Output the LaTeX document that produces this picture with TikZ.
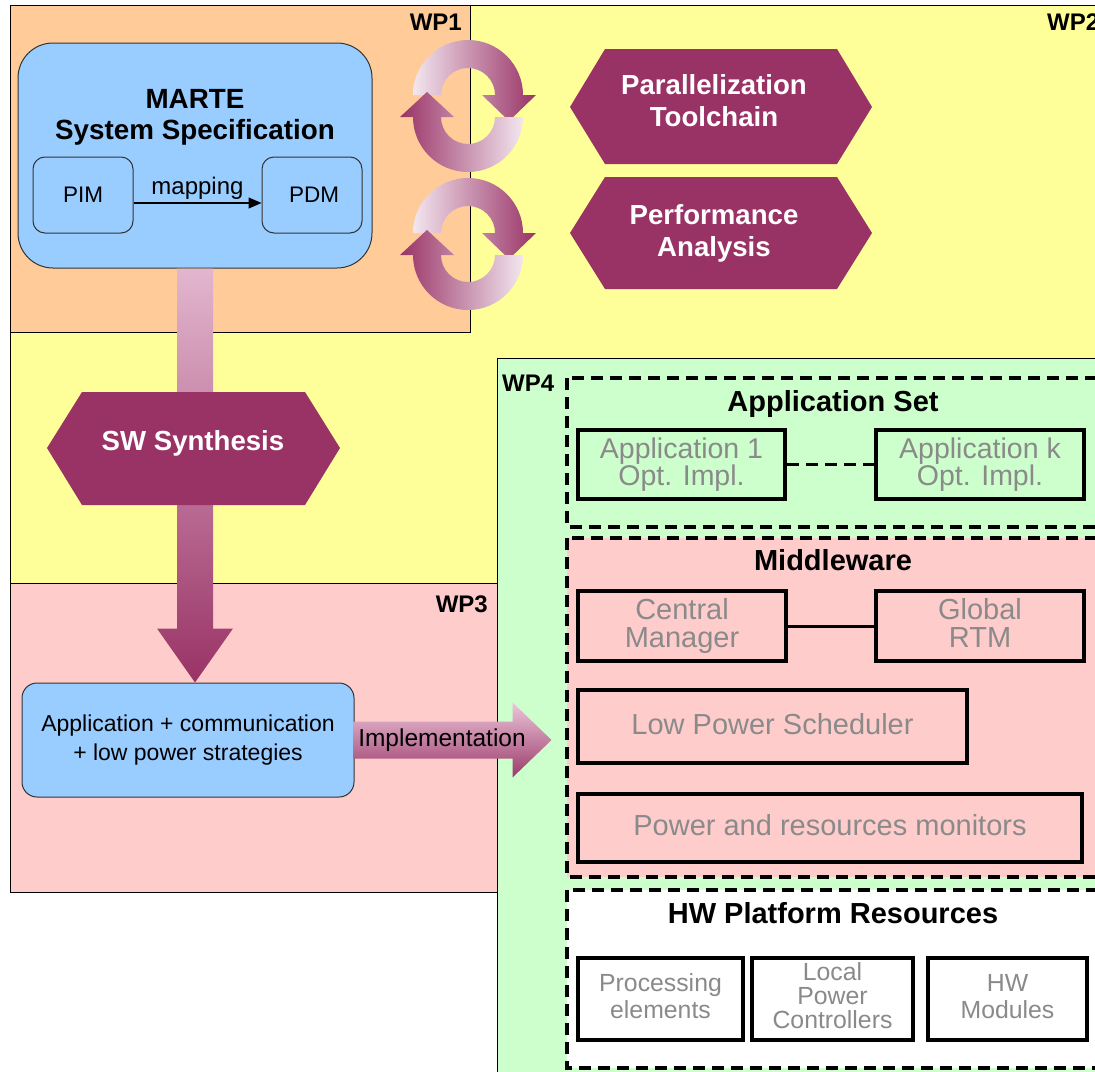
\documentclass[tikz,border=0pt]{standalone}
\usepackage{fontspec}
\setmainfont{Liberation Sans}
\usetikzlibrary{calc,arrows.meta}

\definecolor{wporange}{HTML}{FFCC99}
\definecolor{wpyellow}{HTML}{FFFF99}
\definecolor{wppink}{HTML}{FFCCCC}
\definecolor{wpgreen}{HTML}{CCFFCC}
\definecolor{specblue}{HTML}{99CCFF}
\definecolor{plum}{HTML}{993366}
\definecolor{plumlight}{HTML}{F3E6EF}
\definecolor{shaftlight}{HTML}{E2B6CE}
\definecolor{impllight}{HTML}{EBC6DA}
\definecolor{impldark}{HTML}{9C3A6A}
\definecolor{blocktext}{HTML}{8A8A8A}
\definecolor{edgegray}{HTML}{333333}

\newcommand{\fsz}[2]{\fontsize{#1}{#2}\selectfont}

\tikzset{
  cyclearrows/.pic={
    % upper half-ring, clockwise, head pointing down on the right
    \shade[left color=plumlight,right color=plum]
      (-55,0) arc[start angle=180,end angle=360,radius=55]
      -- (68,0) -- (41,26) -- (14,0) -- (27,0)
      arc[start angle=360,end angle=180,radius=27] -- cycle;
    % lower half-ring, clockwise, head pointing up on the left
    \shade[left color=plum,right color=plumlight]
      (55,22) arc[start angle=0,end angle=180,radius=55]
      -- (-68,22) -- (-41,-3) -- (-14,22) -- (-27,22)
      arc[start angle=180,end angle=0,radius=27] -- cycle;
  }
}

\begin{document}
\begin{tikzpicture}[x=1pt,y=-1pt,
  wpframe/.style={draw=black,line width=1pt},
  wplabel/.style={font=\fsz{24}{28}\bfseries,inner sep=0pt},
  specbox/.style={draw=edgegray,line width=1pt,fill=specblue,inner sep=0pt,rectangle},
  hexlabel/.style={text=white,font=\fsz{27.6}{32}\bfseries,align=center,inner sep=0pt},
  groupbox/.style={draw=black,line width=3.2pt,dash pattern=on 12pt off 7pt},
  grouptitle/.style={font=\fsz{29}{32}\bfseries,inner sep=0pt},
  unitbox/.style={draw=black,line width=4pt,rectangle,inner sep=0pt,align=center,
    text=blocktext,font=\fsz{29}{28},text depth=6pt},
  hwbox/.style={unitbox,font=\fsz{24.8}{27}},
]
\useasboundingbox (0,0) rectangle (1095,1071);
\clip (0,0) rectangle (1095,1071);
\fill[white] (0,0) rectangle (1095,1071);

% work package areas
\draw[wpframe,fill=wpyellow] (10,5) rectangle (1120,583);
\draw[wpframe,fill=wporange] (10,5) rectangle (470,332);
\draw[wpframe,fill=wppink] (10,583) rectangle (497,892);
\draw[wpframe,fill=wpgreen] (497,358) rectangle (1120,1090);

\node[wplabel,anchor=east] (wp1) at (462,22) {WP1};
\node[wplabel,anchor=west] (wp2) at (1047,22) {WP2};
\node[wplabel,anchor=east] (wp3) at (488,604) {WP3};
\node[wplabel,anchor=west] (wp4) at (502,383) {WP4};

% MARTE specification
\node[specbox,rounded corners=35pt,minimum width=354pt,minimum height=225pt]
  (marte) at (195,155.5) {};
\node[font=\fsz{27.8}{31}\bfseries,align=center,inner sep=0pt] (martetitle) at (195,117)
  {MARTE\\System Specification};
\node[specbox,rounded corners=12pt,minimum width=100pt,minimum height=76pt,
  font=\fsz{22.5}{26}] (pim) at (83,195) {PIM};
\node[specbox,rounded corners=12pt,minimum width=100pt,minimum height=76pt,
  font=\fsz{22.5}{26}] (pdm) at (312,195) {\hspace*{4pt}PDM};
\draw[line width=1.2pt,-{Triangle[length=13pt,width=11pt]}]
  ([yshift=-8pt]pim.east) -- node[above=1pt,font=\fsz{24}{26},inner sep=2pt] (maplabel) {mapping}
  ([yshift=-8pt]pdm.west);

% iteration cycles
\pic at (468,95) {cyclearrows};
\pic at (468,233) {cyclearrows};

% analysis tools
\fill[plum] (570,107) -- (605,49) -- (837,49) -- (872,107) -- (837,164) -- (605,164) -- cycle;
\node[hexlabel] (partool) at (714,101) {Parallelization\\Toolchain};
\fill[plum] (570,233) -- (605,177) -- (837,177) -- (872,233) -- (837,289) -- (605,289) -- cycle;
\node[hexlabel] (perfan) at (714,233) {Performance\\Analysis};

% application box and synthesis flow
\node[specbox,rounded corners=15pt,minimum width=332pt,minimum height=114pt,
  font=\fsz{23}{29},align=center] (appbox) at (188,740)
  {Application + communication\\+ low power strategies};
\coordinate (synthtip) at (marte.south |- appbox.north);
\shade[top color=shaftlight,bottom color=plum]
  ($(marte.south)+(-18,0)$) -- ($(synthtip)+(-18,-54)$) -- ($(synthtip)+(-38,-54)$)
  -- (synthtip) -- ($(synthtip)+(38,-54)$) -- ($(synthtip)+(18,-54)$)
  -- ($(marte.south)+(18,0)$) -- cycle;
\fill[plum] (47,448) -- (82,392) -- (305,392) -- (340,448) -- (305,505) -- (82,505) -- cycle;
\node[hexlabel] (swsyn) at (193,443) {SW Synthesis};

% implementation flow
\coordinate (impltip) at ($(appbox.east)+(197,0)$);
\shade[top color=impllight,bottom color=impldark]
  ($(appbox.east)+(-1,-18.5)$) -- ($(impltip)+(-39,-18.5)$) -- ($(impltip)+(-39,-37.5)$)
  -- (impltip) -- ($(impltip)+(-39,37.5)$) -- ($(impltip)+(-39,18.5)$)
  -- ($(appbox.east)+(-1,18.5)$) -- cycle;
\node[font=\fsz{24.5}{26},inner sep=0pt] (impllabel) at (442,740) {Implementation};

% application set
\draw[groupbox,fill=wpgreen] (567,378) rectangle (1120,527);
\node[grouptitle] (appsettitle) at (833,404) {Application Set};
\node[unitbox,minimum width=207pt,minimum height=69pt,font=\fsz{28.5}{27}] (app1) at (681.5,464.5)
  {Application 1\\Opt. Impl.};
\node[unitbox,minimum width=208pt,minimum height=69pt,font=\fsz{28.5}{27}] (appk) at (980,464.5)
  {Application k\\Opt. Impl.};
\draw[line width=3.2pt,dash pattern=on 12pt off 7pt] (app1.east) -- (appk.west);

% middleware
\draw[groupbox,fill=wppink] (567,538) rectangle (1120,877);
\node[grouptitle] (mwtitle) at (833,560) {Middleware};
\node[unitbox,minimum width=208pt,minimum height=70pt] (central) at (682,626)
  {Central\\Manager};
\node[unitbox,minimum width=208pt,minimum height=70pt] (global) at (980,626)
  {Global\\RTM};
\draw[line width=3pt] (central.east) -- (global.west);
\node[unitbox,minimum width=389pt,minimum height=73pt] (lps) at (772.5,726.5)
  {Low Power Scheduler};
\node[unitbox,minimum width=504pt,minimum height=68pt] (prm) at (830,828)
  {Power and resources monitors};

% hardware platform
\draw[groupbox,fill=white] (567,890) rectangle (1120,1068);
\node[grouptitle] (hwtitle) at (833,913) {HW Platform Resources};
\node[hwbox,minimum width=165pt,minimum height=82pt] (pe) at (660.5,999)
  {Processing\\elements};
\node[hwbox,minimum width=161pt,minimum height=82pt,font=\fsz{24.8}{24}] (lpc) at (832.5,999)
  {Local\\Power\\Controllers};
\node[hwbox,minimum width=159pt,minimum height=82pt] (hwm) at (1007.5,999)
  {HW\\Modules};
\end{tikzpicture}
\end{document}
